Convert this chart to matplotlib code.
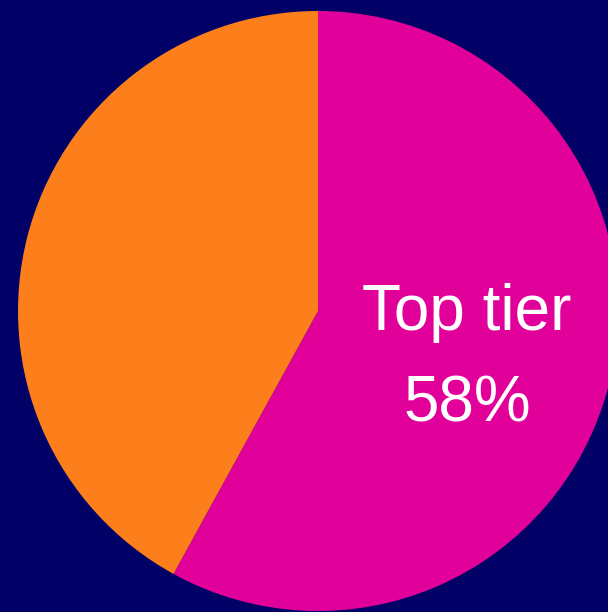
import matplotlib.pyplot as plt

# tier shares, clockwise from 12 o'clock
labels = ['Top tier', 'Other']
shares = [58, 42]
colors = ['#e2009a', '#fd7f1c']

plt.rcParams['font.family'] = ['Liberation Sans', 'DejaVu Sans']

fig = plt.figure(figsize=(6.08, 6.12), dpi=100, facecolor='#000066')
# square 600x600 px axes, centre at (318, 311) px from top-left
ax = fig.add_axes([18 / 608, 1 / 612, 600 / 608, 600 / 612])
ax.set_facecolor('#000066')

wedges, _ = ax.pie(shares, colors=colors, startangle=90, counterclock=False,
                   radius=1.0, wedgeprops=dict(linewidth=0))
ax.set_xlim(-1, 1)
ax.set_ylim(-1, 1)
ax.set_aspect('auto')
ax.axis('off')

ax.text(0.497, -0.063, labels[0], color='white', fontsize=46,
        ha='center', va='baseline')
ax.text(0.497, -0.37, '{}%'.format(shares[0]), color='white', fontsize=46,
        ha='center', va='baseline')

fig.savefig('out.png', dpi=100, facecolor=fig.get_facecolor())
